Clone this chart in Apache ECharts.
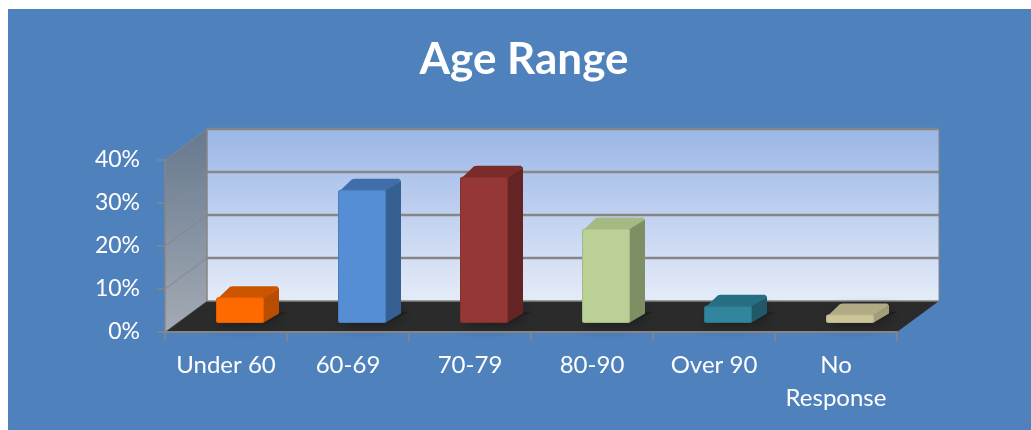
<!DOCTYPE html>
<html>
<head>
<meta charset="utf-8">
<style>html,body{margin:0;padding:0;background:#fff}#c{width:1031px;height:430px}</style>
<script src="https://cdn.jsdelivr.net/npm/echarts@6/dist/echarts.min.js"></script>
</head>
<body>
<div id="c"></div>
<script>
const chartTitle = 'Age Range';
const categories = ['Under 60', '60-69', '70-79', '80-90', 'Over 90', 'No\nResponse'];
const values = [6, 31, 34, 22, 4, 2];
const yTicks = [0, 10, 20, 30, 40];
const frontColors = ['#FF6A00', '#558ED5', '#953735', '#BBD096', '#31859C', '#CCC599'];
const topColors = ['#CC5500', '#3F6EA8', '#7A2C2A', '#A5B985', '#266F83', '#B0AA85'];
const sideColors = ['#B84D00', '#376092', '#632423', '#7F8F64', '#215968', '#A39D79'];

const FONT = 'Lato';
const WALL_DX = 42, WALL_DY = -31;
const BAR_DX = 15, BAR_DY = -11, BASE_DX = 14, BASE_DY = -9, BAR_W = 48;
const LINE = '#868686';

function linear(stops) {
  return {type: 'linear', x: 0, y: 0, x2: 0, y2: 1,
    colorStops: stops.map((c, i) => ({offset: i / (stops.length - 1), color: c}))};
}

function renderWalls(params, api) {
  const cs = params.coordSys;
  const L = cs.x, R = cs.x + cs.width, T = cs.y, B = cs.y + cs.height;
  return {type: 'group', children: [
    {type: 'polygon', shape: {points: [[L + WALL_DX, T + WALL_DY], [R + WALL_DX, T + WALL_DY], [R + WALL_DX, B + WALL_DY], [L + WALL_DX, B + WALL_DY]]},
      style: {fill: linear(['#9BB6E7', '#E5ECF8'])}},
    {type: 'polygon', shape: {points: [[L, T], [L + WALL_DX, T + WALL_DY], [L + WALL_DX, B + WALL_DY], [L, B]]},
      style: {fill: linear(['#66798F', '#A4AAB4'])}},
    {type: 'polygon', shape: {points: [[L, B], [R, B], [R + WALL_DX, B + WALL_DY], [L + WALL_DX, B + WALL_DY]]},
      style: {fill: '#2B2B2B'}},
    {type: 'line', shape: {x1: L + WALL_DX, y1: B + WALL_DY, x2: L + WALL_DX, y2: T + WALL_DY},
      style: {stroke: LINE, lineWidth: 1.5}},
    {type: 'line', shape: {x1: R + WALL_DX, y1: B + WALL_DY, x2: R + WALL_DX, y2: T + WALL_DY},
      style: {stroke: LINE, lineWidth: 1}}
  ]};
}

function renderGrid(params, api) {
  const cs = params.coordSys;
  const p = api.coord([0, api.value(0)]);
  const L = cs.x, R = cs.x + cs.width;
  const y = p[1];
  const isZero = api.value(0) === 0;
  return {type: 'group', children: [
    {type: 'line', shape: {x1: L, y1: y, x2: L + WALL_DX, y2: y + WALL_DY},
      style: {stroke: LINE, lineWidth: isZero ? 1 : 1.5, opacity: isZero ? 0.5 : 0.6}},
    {type: 'line', shape: {x1: L + WALL_DX, y1: y + WALL_DY, x2: R + WALL_DX, y2: y + WALL_DY},
      style: {stroke: LINE, lineWidth: isZero ? 1.5 : 2.5}}
  ]};
}

function renderBar(params, api) {
  const i = params.dataIndex;
  const v = api.value(1);
  const top = api.coord([api.value(0), v]);
  const base = api.coord([api.value(0), 0]);
  const x = top[0] + BASE_DX - BAR_W / 2;
  const yT = top[1] + BASE_DY;
  const yB = base[1] + BASE_DY;
  const xR = x + BAR_W;
  const h = yB - yT;
  const dx = BAR_DX, dy = BAR_DY;
  return {type: 'group', children: [
    {type: 'polygon', shape: {points: [[x, yB], [xR, yB], [xR + dx + 8, yB + dy], [x + dx, yB + dy]]},
      style: {fill: '#1F1F1F', shadowBlur: 14, shadowColor: '#141414'}},
    {type: 'polygon', shape: {points: [[x + 2, yT + 1], [x + dx - 1, yT + dy + 0.5], [x + dx + 2, yT + dy], [xR + dx - 2, yT + dy], [xR + dx, yT + dy + 2], [xR, yT + 1]]},
      style: {fill: topColors[i]}},
    {type: 'polygon', shape: {points: [[xR - 1, yT + 1], [xR + dx, yT + dy + 2], [xR + dx, yB + dy + 1.5], [xR - 1, yB]]},
      style: {fill: sideColors[i]}},
    {type: 'rect', shape: {x: x, y: yT, width: BAR_W, height: h, r: 2.5},
      style: {fill: frontColors[i]}},
    {type: 'rect', shape: {x: x + 0.5, y: yT + 0.5, width: BAR_W - 1, height: h - 1, r: 2.5},
      style: {fill: null, stroke: sideColors[i], lineWidth: 1, opacity: 0.35}}
  ]};
}

const chart = echarts.init(document.getElementById('c'), null, {renderer: 'canvas'});
chart.setOption({
  animation: false,
  backgroundColor: '#fff',
  graphic: [{type: 'rect', z: -10, shape: {x: 8, y: 9, width: 1023, height: 421}, style: {fill: '#4F81BD'}}],
  title: {
    text: chartTitle, left: 519, top: 33, textAlign: 'center',
    textStyle: {color: '#fff', fontFamily: FONT, fontWeight: 'bold', fontSize: 44}
  },
  grid: {left: 165, top: 160, width: 732, height: 172, containLabel: false},
  xAxis: {
    type: 'category', data: categories, z: 5,
    axisLine: {lineStyle: {color: LINE, width: 2}},
    axisTick: {show: true, length: 9, lineStyle: {color: LINE, width: 1.5}, alignWithLabel: false},
    axisLabel: {color: '#fff', fontFamily: FONT, fontSize: 24, margin: 17, lineHeight: 33, interval: 0},
    splitLine: {show: false}
  },
  yAxis: {
    type: 'value', min: 0, max: 40, interval: 10, z: 5,
    axisLine: {show: true, lineStyle: {color: LINE, width: 1.5}},
    axisTick: {show: true, length: 8, lineStyle: {color: LINE, width: 1.5}},
    axisLabel: {color: '#fff', fontFamily: FONT, fontSize: 23, margin: 25, padding: [3, 0, 0, 0], formatter: '{value}%'},
    splitLine: {show: false}
  },
  series: [
    {type: 'custom', silent: true, z: 1, clip: false, data: [[0]], renderItem: renderWalls,
      encode: {x: 0}},
    {type: 'custom', silent: true, z: 2, clip: false, data: yTicks.map(v => [v]), renderItem: renderGrid,
      encode: {y: 0}},
    {type: 'custom', silent: true, z: 3, clip: false, data: values.map((v, i) => [i, v]), renderItem: renderBar,
      encode: {x: 0, y: 1}}
  ]
});
</script>
</body>
</html>
